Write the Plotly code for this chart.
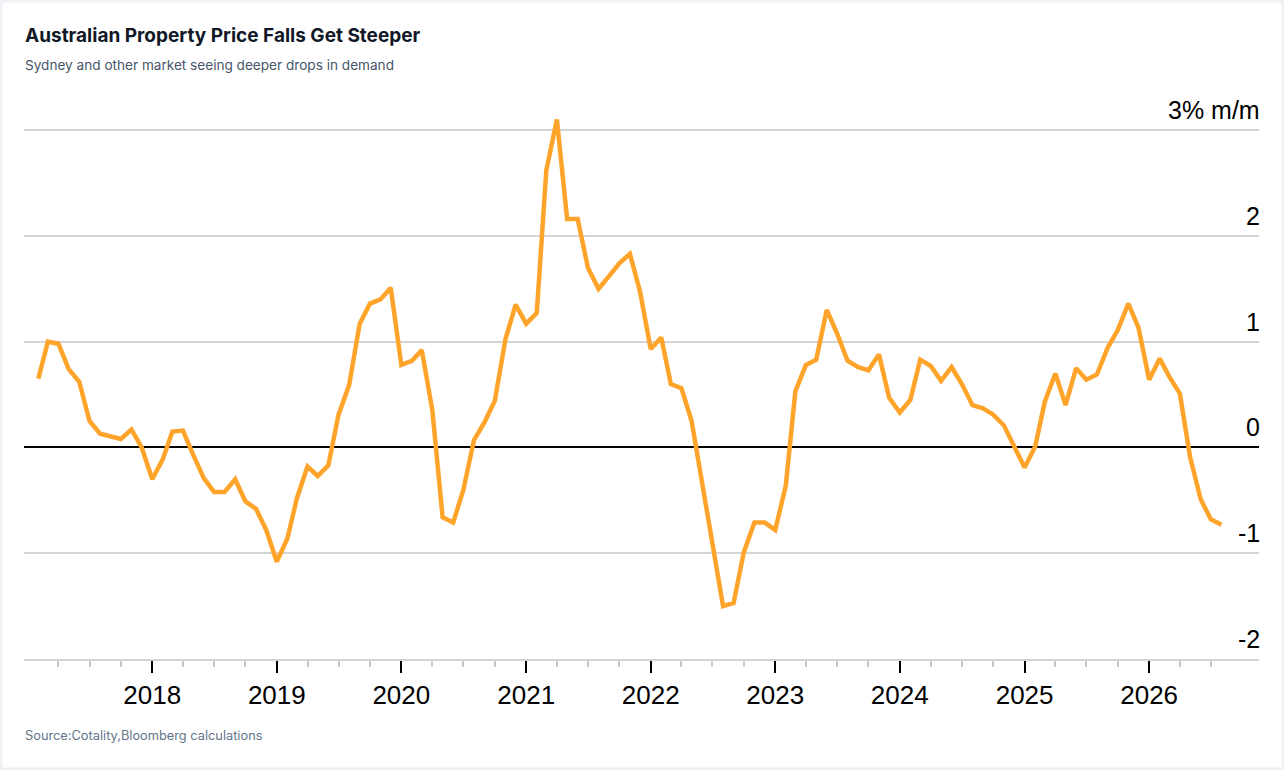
"""Australian Property Price Falls Get Steeper — 月次の住宅価格変化率 (% m/m) を折れ線で描く。

出力: out.html
"""

import pandas as pd
import plotly.graph_objects as go

# ---------- データ ----------
START_MONTH = "2017-02-01"

# % m/m (2017-02 .. 2026-08)
VALUES_2017 = [0.65, 1.00, 0.98, 0.74, 0.62, 0.25, 0.13, 0.11, 0.08, 0.17, 0.00]
VALUES_2018 = [-0.30, -0.11, 0.15, 0.16, -0.07, -0.29, -0.42, -0.42, -0.30, -0.51, -0.58, -0.78]
VALUES_2019 = [-1.08, -0.86, -0.48, -0.18, -0.27, -0.17, 0.31, 0.59, 1.17, 1.36, 1.40, 1.51]
VALUES_2020 = [0.78, 0.82, 0.92, 0.35, -0.66, -0.71, -0.40, 0.07, 0.24, 0.44, 1.02, 1.35]
VALUES_2021 = [1.17, 1.27, 2.62, 3.10, 2.16, 2.16, 1.70, 1.50, 1.62, 1.74, 1.83, 1.47]
VALUES_2022 = [0.93, 1.04, 0.60, 0.56, 0.25, -0.34, -0.91, -1.50, -1.47, -0.99, -0.71, -0.71]
VALUES_2023 = [-0.78, -0.36, 0.53, 0.78, 0.83, 1.30, 1.08, 0.82, 0.76, 0.73, 0.88, 0.47]
VALUES_2024 = [0.33, 0.45, 0.83, 0.77, 0.63, 0.76, 0.60, 0.40, 0.37, 0.31, 0.21, 0.01]
VALUES_2025 = [-0.19, 0.01, 0.43, 0.70, 0.40, 0.75, 0.64, 0.69, 0.94, 1.11, 1.36, 1.13]
VALUES_2026 = [0.64, 0.84, 0.67, 0.51, -0.09, -0.49, -0.68, -0.73]

Y_TICKS = [3, 2, 1, 0, -1, -2]
Y_TICK_TEXT = ["3% m/m", "2", "1", "0", "-1", "-2"]

# x 軸目盛: 年 (major) / 四半期 (minor)
YEAR_TICKS = pd.date_range("2018-01-01", "2026-01-01", freq="YS")
QUARTER_TICKS = pd.date_range("2017-04-01", "2026-07-01", freq="QS")

TITLE = "Australian Property Price Falls Get Steeper"
SUBTITLE = "Sydney and other market seeing deeper drops in demand"
SOURCE = "Source:Cotality,Bloomberg calculations"

values = (VALUES_2017 + VALUES_2018 + VALUES_2019 + VALUES_2020 + VALUES_2021
          + VALUES_2022 + VALUES_2023 + VALUES_2024 + VALUES_2025 + VALUES_2026)
df = pd.DataFrame({
    "month": pd.date_range(START_MONTH, periods=len(values), freq="MS"),
    "mom": values,
})

# ---------- 表示設定 ----------
W, H = 1284, 770
M_L, M_R, M_T, M_B = 24, 25, 109, 111
Y_RANGE = [-2, 3.2]

LINE_COLOR = "#FFA42B"
GRID_COLOR = "#d4d4d4"
TICK_FONT = "Helvetica, Arial, Liberation Sans, sans-serif"
TEXT_FONT = "Inter, Noto Sans, sans-serif"

plot_w = W - M_L - M_R
plot_h = H - M_T - M_B


def px_to_paper_x(px):
    return (px - M_L) / plot_w


def px_to_paper_y(py):
    return (H - M_B - py) / plot_h


# ---------- Figure ----------
fig = go.Figure()
fig.add_trace(go.Scatter(
    x=df["month"], y=df["mom"],
    mode="lines",
    line=dict(color=LINE_COLOR, width=4.5),
    hovertemplate="%{x|%b %Y}: %{y:.2f}%<extra></extra>",
))

fig.update_layout(
    width=W, height=H,
    margin=dict(l=M_L, r=M_R, t=M_T, b=M_B),
    paper_bgcolor="#ffffff",
    plot_bgcolor="#ffffff",
    showlegend=False,
    font=dict(family=TICK_FONT, color="#000000"),
)

fig.update_xaxes(
    type="date",
    range=["2016-12-21", "2026-11-19"],
    showgrid=False,
    zeroline=False,
    showline=True, linecolor=GRID_COLOR, linewidth=2,
    ticks="outside", ticklen=12, tickwidth=2, tickcolor="#000000",
    tickmode="array", tickvals=YEAR_TICKS, ticktext=[str(d.year) for d in YEAR_TICKS],
    tickfont=dict(size=26, family=TICK_FONT, color="#000000"),
    minor=dict(tickmode="array", tickvals=QUARTER_TICKS, ticks="outside",
               ticklen=6, tickwidth=1.5, tickcolor="#c8c8c8", showgrid=False),
)
fig.update_yaxes(
    range=Y_RANGE,
    tickvals=Y_TICKS,
    showticklabels=False,
    showgrid=True, gridcolor=GRID_COLOR, gridwidth=1.5,
    zeroline=True, zerolinecolor="#000000", zerolinewidth=2,
    showline=False,
)

# y 軸ラベル（右寄せ・グリッド線の上）
for val, text in zip(Y_TICKS, Y_TICK_TEXT):
    fig.add_annotation(
        x=1, y=val, xref="paper", yref="y",
        text=text, showarrow=False,
        xanchor="right", yanchor="bottom", yshift=4, xshift=3,
        font=dict(size=25, family=TICK_FONT, color="#000000"),
    )

# タイトル・サブタイトル・出典
fig.add_annotation(
    x=px_to_paper_x(23), y=px_to_paper_y(36), xref="paper", yref="paper",
    text=f"<b>{TITLE}</b>", showarrow=False, xanchor="left", yanchor="middle",
    font=dict(size=19, family=TEXT_FONT, color="#111827"),
)
fig.add_annotation(
    x=px_to_paper_x(23), y=px_to_paper_y(65), xref="paper", yref="paper",
    text=SUBTITLE, showarrow=False, xanchor="left", yanchor="middle",
    font=dict(size=13.6, family=TEXT_FONT, color="#475569"),
)
fig.add_annotation(
    x=px_to_paper_x(23), y=px_to_paper_y(735), xref="paper", yref="paper",
    text=SOURCE, showarrow=False, xanchor="left", yanchor="middle",
    font=dict(size=12.8, family=TEXT_FONT, color="#64748b"),
)

# 外枠
fig.add_shape(
    type="rect", xref="paper", yref="paper",
    x0=px_to_paper_x(0), x1=px_to_paper_x(W),
    y0=px_to_paper_y(H), y1=px_to_paper_y(0),
    line=dict(color="#eef1f5", width=5),
    fillcolor="rgba(0,0,0,0)",
    layer="above",
)

# ---------- 出力 ----------
# ブラウザ既定の body 余白 (8px) を消して左上に揃える
fig.write_html(
    "out.html",
    config={"displayModeBar": False},
    post_script="document.body.style.margin = '0';",
)
